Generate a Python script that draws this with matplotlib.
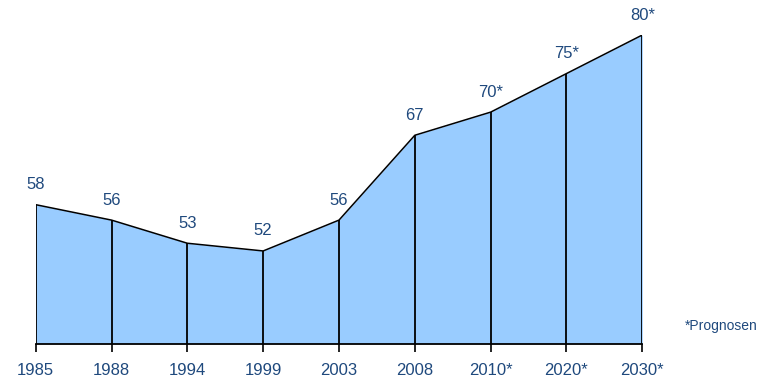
import matplotlib.pyplot as plt

years = ["1985", "1988", "1994", "1999", "2003", "2008", "2010*", "2020*", "2030*"]
values = [58, 56, 53, 52, 56, 67, 70, 75, 80]
point_labels = ["58", "56", "53", "52", "56", "67", "70*", "75*", "80*"]

text_color = "#1F497D"
plt.rcParams["font.family"] = ["Liberation Sans", "DejaVu Sans"]

fig = plt.figure(figsize=(7.73, 3.8), dpi=100)
ax = fig.add_axes([35.7 / 773, 36.5 / 380, (642.3 - 35.7) / 773, (343.5 - 35) / 380])

x = list(range(len(years)))
ax.fill_between(x, 40, values, color="#99CCFF", linewidth=0)
ax.plot(x, values, color="black", linewidth=1.1)
ax.vlines(x, 40, values, color="black", linewidth=1.3)

for xi, v, lab in zip(x, values, point_labels):
    ax.annotate(lab, (xi, v), xytext=(0, 9), textcoords="offset points",
                ha="center", va="bottom", fontsize=12, color=text_color)

ax.set_xlim(0, len(years) - 1)
ax.set_ylim(40, 80)
ax.set_xticks(x)
ax.set_xticklabels(years, fontsize=12, color=text_color)
ax.tick_params(axis="x", length=6, width=1.2, color="black", pad=8)
ax.set_yticks([])
for side in ["left", "right", "top"]:
    ax.spines[side].set_visible(False)
ax.spines["bottom"].set_linewidth(1.3)

fig.text(685 / 773, 1 - 326 / 380, "*Prognosen", fontsize=10, color=text_color,
         ha="left", va="center")

fig.savefig("out.png", dpi=100)
